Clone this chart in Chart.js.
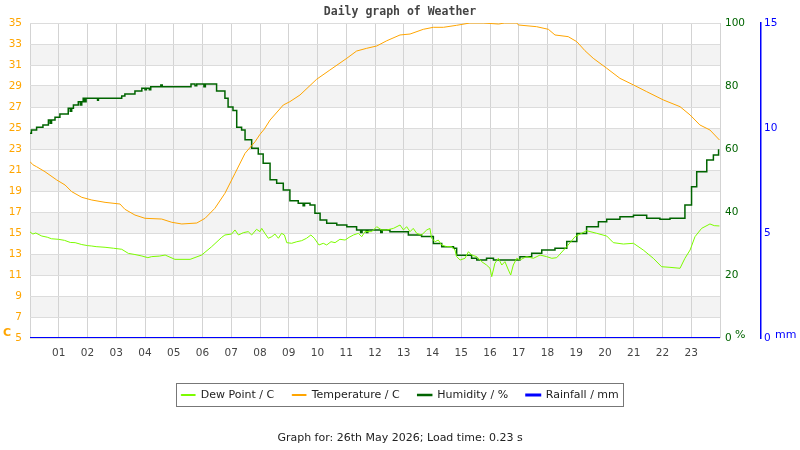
<!DOCTYPE html>
<html>
<head>
<meta charset="utf-8">
<script src="https://cdn.jsdelivr.net/npm/chart.js@4/dist/chart.umd.min.js"></script>
<style>
  body { margin: 0; background: #fff; }
  #wrap { width: 800px; height: 450px; }
</style>
</head>
<body>
<div id="wrap"><canvas id="weather" width="800" height="450"></canvas></div>
<script>
//------------------------------ data ------------------------------

// hours of the day (0-24) for each series
const tempHours = [0, 0.1, 0.23, 0.52, 0.93, 1.22, 1.45, 1.8, 2.15, 2.61, 3.13, 3.3, 3.65, 4.0, 4.58, 4.93, 5.28, 5.8,
    6.09, 6.43, 6.78, 7.13, 7.48, 7.83, 8.0, 8.15, 8.35, 8.81, 9.04, 9.39, 9.97, 10.43, 11.02, 11.36, 11.71, 12.06,
    12.41, 12.87, 13.22, 13.68, 14.03, 14.38, 14.84, 15.3, 15.77, 16.3, 16.5, 16.93, 16.99, 17.62, 18.03, 18.26,
    18.72, 19.02, 19.3, 19.59, 20.06, 20.52, 20.99, 21.45, 22.03, 22.61, 22.96, 23.3, 23.65, 23.98];
const tempValues = [21.8, 21.5, 21.31, 20.84, 20.05, 19.57, 18.94, 18.4, 18.14, 17.92, 17.76, 17.26, 16.71, 16.4, 16.33,
    16.02, 15.86, 15.95, 16.4, 17.35, 18.78, 20.68, 22.59, 23.7, 24.4, 24.9, 25.76, 27.19, 27.51, 28.14, 29.64, 30.52,
    31.64, 32.33, 32.59, 32.81, 33.31, 33.86, 33.95, 34.4, 34.59, 34.59, 34.78, 35.0, 35.0, 34.9, 35.0, 35.0, 34.81,
    34.65, 34.4, 33.86, 33.7, 33.22, 32.37, 31.64, 30.69, 29.73, 29.1, 28.46, 27.67, 27.03, 26.24, 25.29, 24.81, 23.86];

const dewHours = [0, 0.1, 0.2, 0.41, 0.6, 0.75, 0.99, 1.2, 1.4, 1.57, 1.8, 2.0, 2.15, 2.3, 2.61, 2.9, 3.19, 3.42, 3.65,
    3.89, 4.1, 4.23, 4.5, 4.7, 5.04, 5.57, 5.97, 6.32, 6.67,
    6.78, 7.01, 7.13, 7.25, 7.42, 7.59, 7.71, 7.88, 8.0, 8.06, 8.17, 8.29, 8.41, 8.52, 8.64, 8.75, 8.85, 8.93, 9.1,
    9.28, 9.45, 9.62, 9.77, 9.89, 10.05, 10.2, 10.32, 10.47, 10.61, 10.78, 10.96, 11.1, 11.25, 11.42, 11.54, 11.65,
    11.89, 12.06, 12.23, 12.41, 12.64, 12.87, 12.99, 13.1, 13.22, 13.33, 13.45, 13.62, 13.8, 13.91, 13.97, 14.09,
    14.2, 14.32, 14.49, 14.67, 14.78, 14.84, 14.96, 15.13, 15.25, 15.36, 15.54, 15.71, 15.88, 16.0, 16.06, 16.17,
    16.29, 16.41, 16.52, 16.64, 16.72, 16.81, 16.93, 17.04, 17.27, 17.51, 17.74, 17.97, 18.15, 18.32,
    18.67, 18.96, 19.36, 19.71, 20.06, 20.29, 20.64, 20.99, 21.33, 21.68, 21.97, 22.26, 22.61, 22.78, 22.96, 23.13,
    23.36, 23.65, 23.8, 23.98];
const dewValues = [15.1, 14.9, 15.0, 14.71, 14.6, 14.45, 14.4, 14.3, 14.1, 14.08, 13.9, 13.8, 13.76, 13.7, 13.64, 13.55,
    13.45, 13.06, 12.95, 12.81, 12.65, 12.75, 12.8, 12.9, 12.49, 12.49, 12.9, 13.7, 14.59,
    14.81, 14.9, 15.29, 14.81, 15.03, 15.13, 14.81, 15.35, 15.13, 15.44, 14.97, 14.5, 14.65, 14.9, 14.5, 14.97, 14.81,
    14.08, 14.02, 14.17, 14.27, 14.5, 14.81, 14.5, 13.86, 14.02, 13.86, 14.17, 14.08, 14.4, 14.33, 14.59, 14.81, 14.97,
    14.65, 15.13, 15.13, 15.6, 15.29, 15.29, 15.44, 15.76, 15.29, 15.6, 15.13, 15.44, 14.97, 14.81, 15.29, 15.44, 14.5,
    14.17, 14.33, 13.86, 13.7, 13.7, 13.38, 12.75, 12.43, 12.59, 13.22, 12.9, 12.75, 12.27, 11.95, 11.64, 10.84, 12.11,
    12.59, 11.95, 12.27, 11.48, 11.0, 11.95, 12.59, 12.43, 12.75, 12.59, 12.9, 12.75, 12.59, 12.65,
    13.7, 14.65, 15.22, 14.97, 14.71, 14.08, 13.95, 14.02, 13.38, 12.59, 11.79, 11.73, 11.64, 12.59, 13.38, 14.65,
    15.44, 15.86, 15.7, 15.67];

const humHours = [0, 0.05, 0.23, 0.45, 0.64, 0.7, 0.75, 0.87, 1.04, 1.33, 1.4, 1.45, 1.51, 1.68, 1.75, 1.8, 1.85, 1.9,
    1.95, 2.35, 2.38, 3.19, 3.3, 3.65, 3.89, 4.0, 4.05, 4.15, 4.2, 4.55, 4.6, 5.51, 5.6, 5.74, 5.8, 6.0, 6.05, 6.1,
    6.37, 6.49, 6.78, 6.89, 7.06, 7.19, 7.36, 7.48, 7.71, 7.94, 8.11, 8.35, 8.58, 8.81, 9.04, 9.33, 9.5, 9.55, 9.74,
    9.91, 10.09, 10.32, 10.67, 11.02, 11.36, 11.5, 11.55, 11.7, 11.75, 12.06, 12.2, 12.25, 12.52, 13.16, 13.62, 14.03,
    14.32, 14.73, 14.84, 15.25, 15.36, 15.54, 15.88, 16.12, 16.58, 17.04, 17.45, 17.8, 18.26, 18.67, 19.02, 19.36,
    19.77, 20.06, 20.52, 20.99, 21.39, 21.45, 21.91, 22.26, 22.61, 22.78, 23.01, 23.19, 23.54, 23.77, 23.95];
const humValues = [65.0, 66.0, 66.9, 67.6, 69.2, 68.2, 69.2, 70.1, 71.1, 72.9, 72.0, 72.9, 74.0, 75.0, 74.0, 75.0, 76.1,
    75.0, 76.1, 75.5, 76.1, 76.8, 77.5, 78.4, 79.3, 78.8, 79.3, 78.8, 79.8, 80.3, 79.8, 79.8, 80.6, 80.1, 80.6, 80.6,
    79.8, 80.6, 80.6, 78.4, 76.1, 73.3, 72.2, 66.9, 66.0, 62.9, 60.2, 58.4, 55.5, 50.2, 49.1, 47.0, 43.6, 42.8, 42.0,
    42.8, 42.2, 39.6, 37.5, 36.4, 35.9, 35.3, 34.3, 33.5, 34.3, 33.5, 34.3, 34.3, 33.5, 34.3, 33.7, 32.7, 32.2, 30.0,
    29.0, 28.5, 26.3, 26.3, 25.3, 24.8, 25.3, 24.8, 24.8, 25.8, 26.9, 27.9, 28.5, 30.6, 33.2, 35.3,
    36.9, 37.7, 38.5, 39.0, 39.0, 38.0, 37.7, 38.0, 38.0, 42.2, 48.0, 52.8, 56.5, 58.1, 59.9];

const rainHours = [0, 24];
const rainValues = [0, 0];

const tempTicks = [5, 7, 9, 11, 13, 15, 17, 19, 21, 23, 25, 27, 29, 31, 33, 35];
const humTicks = [0, 20, 40, 60, 80, 100];
const rainTicks = [0, 5, 10, 15];

//------------------------------ chart ------------------------------

const pts = (hours, values) => hours.map((h, i) => ({x: h, y: values[i]}));
const font = {family: 'DejaVu Sans', size: 10.5};

const dataWX = {
    datasets: [{
        label: 'Dew Point / C',
        data: pts(dewHours, dewValues),
        borderColor: '#7cfc00',
        backgroundColor: '#7cfc00',
        borderWidth: 1,
        yAxisID: 'y'
    },
    {   label: 'Temperature / C',
        data: pts(tempHours, tempValues),
        borderColor: '#ffa500',
        backgroundColor: '#ffa500',
        borderWidth: 1,
        yAxisID: 'y'
    },
    {   label: 'Humidity / %',
        data: pts(humHours, humValues),
        borderColor: '#006400',
        backgroundColor: '#006400',
        borderWidth: 1.5,
        stepped: true,
        yAxisID: 'hum'
    },
    {   label: 'Rainfall / mm',
        data: pts(rainHours, rainValues),
        borderColor: '#0000ff',
        backgroundColor: '#0000ff',
        borderWidth: 2,
        yAxisID: 'rain'
    }]
};

// grey bands, unit labels and the frame round the legend
const extras = {
    id: 'extras',
    beforeDraw(chart) {
        const {ctx, chartArea: a, scales: {y}} = chart;
        ctx.save();
        ctx.fillStyle = '#f3f3f3';
        for (let v = 7; v < 35; v += 4) {
            const top = y.getPixelForValue(v + 2), bottom = y.getPixelForValue(v);
            ctx.fillRect(a.left, top, a.right - a.left, bottom - top);
        }
        ctx.restore();
    },
    afterDraw(chart) {
        const {ctx, legend} = chart;
        ctx.save();
        ctx.textBaseline = 'middle';
        ctx.font = 'bold 11px "DejaVu Sans"';
        ctx.fillStyle = '#ffa500';
        ctx.fillText('C', 3, 333);
        ctx.font = '11px "DejaVu Sans"';
        ctx.fillStyle = '#006400';
        ctx.fillText('%', 735, 335);
        ctx.fillStyle = '#0000ff';
        ctx.fillText('mm', 775, 335);

        const boxes = legend.legendHitBoxes;
        const first = boxes[0], last = boxes[boxes.length - 1];
        const cy = first.top + first.height / 2;
        ctx.strokeStyle = '#777';
        ctx.lineWidth = 1;
        ctx.strokeRect(Math.round(first.left - 5) + 0.5, Math.round(cy - 12) + 0.5,
            Math.round(last.left + last.width - first.left + 9), 23);
        ctx.restore();
    }
};

const configWX = {
    type: 'line',
    data: dataWX,
    plugins: [extras],
    options: {
        responsive: false,
        animation: false,
        elements: { point: { radius: 0 }, line: { tension: 0 } },
        layout: { padding: 0 },
        plugins: {
            title: {
                display: true,
                text: 'Daily graph of Weather',
                color: '#444',
                font: {family: 'DejaVu Sans Mono', size: 11.5, weight: 'bold'},
                padding: {top: 5, bottom: 4.2}
            },
            subtitle: {
                display: true,
                position: 'bottom',
                text: 'Graph for: 26th May 2026; Load time: 0.23 s',
                color: '#222',
                font: {family: 'DejaVu Sans', size: 11},
                padding: {top: 21.3, bottom: 5}
            },
            legend: {
                position: 'bottom',
                labels: {
                    color: '#222',
                    font: {family: 'DejaVu Sans', size: 11},
                    boxWidth: 14,
                    boxHeight: 1,
                    padding: 18
                }
            },
            tooltip: { enabled: false }
        },
        scales: {
            x: {
                type: 'linear',
                min: 0,
                max: 24,
                afterBuildTicks: (s) => { s.ticks = Array.from({length: 25}, (_, i) => ({value: i})); },
                ticks: {
                    autoSkip: false,
                    color: '#444',
                    font: font,
                    padding: 9,
                    callback: (v) => (v === 0 || v === 24) ? '' : String(v).padStart(2, '0')
                },
                grid: { color: '#d3d3d3', drawTicks: false },
                border: { display: false },
                afterFit: (s) => { s.height = 33.5; }
            },
            y: {
                position: 'left',
                min: 5,
                max: 35,
                afterBuildTicks: (s) => { s.ticks = tempTicks.map(v => ({value: v})); },
                ticks: { color: '#ffa500', font: font, padding: 8 },
                grid: { color: '#dcdcdc', drawTicks: false },
                border: { display: false },
                afterFit: (s) => { s.width = 30; }
            },
            hum: {
                position: 'right',
                min: 0,
                max: 100,
                afterBuildTicks: (s) => { s.ticks = humTicks.map(v => ({value: v})); },
                ticks: { color: '#006400', font: font, padding: 5 },
                grid: { display: false, drawTicks: false },
                border: { display: false },
                afterFit: (s) => { s.width = 41; }
            },
            rain: {
                position: 'right',
                min: 0,
                max: 15,
                afterBuildTicks: (s) => { s.ticks = rainTicks.map(v => ({value: v})); },
                ticks: { color: '#0000ff', font: font, padding: 3 },
                grid: { display: false, drawTicks: false },
                border: { display: true, color: '#0000ff', width: 1.5 },
                afterFit: (s) => { s.width = 39; }
            }
        }
    }
};

var chartWX = new Chart(
    document.getElementById('weather'),
    configWX
);
</script>
</body>
</html>
